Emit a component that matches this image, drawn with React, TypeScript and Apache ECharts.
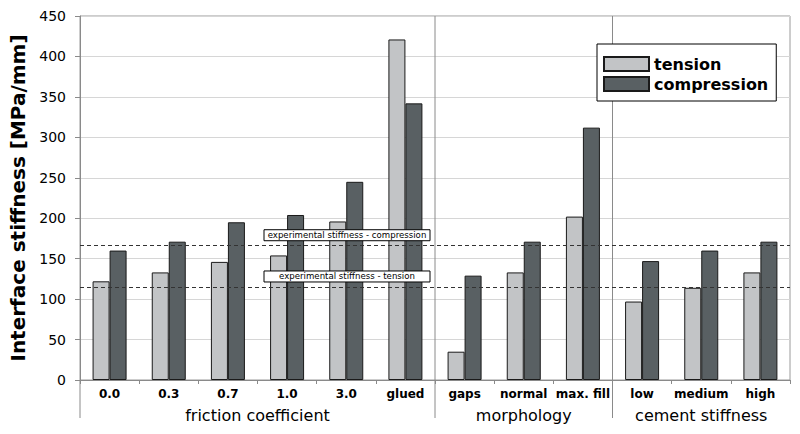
import React, { useEffect, useRef } from "react";
import * as echarts from "echarts";

const categories = ["0.0", "0.3", "0.7", "1.0", "3.0", "glued", "gaps", "normal", "max. fill", "low", "medium", "high"];
const tension = [122, 133, 146, 154, 196, 421, 35, 133, 202, 97, 114, 133];
const compression = [160, 171, 195, 204, 245, 342, 129, 171, 312, 147, 160, 171];
const groups = [
  { name: "friction coefficient", start: 0, end: 6 },
  { name: "morphology", start: 6, end: 9 },
  { name: "cement stiffness", start: 9, end: 12 },
];
const expCompression = 166;
const expTension = 115;
const yTicks = { min: 0, max: 450, interval: 50 };

const FONT = "DejaVu Sans";

export default function App() {
  const ref = useRef<HTMLDivElement>(null);
  useEffect(() => {
    if (!ref.current) return;
    document.body.style.margin = "0";
    const chart = echarts.init(ref.current, null, { renderer: "svg" });
    chart.setOption({
      animation: false,
      grid: { left: 80, right: 10, top: 16, bottom: 54, show: true, borderColor: "#9a9a9a", borderWidth: 1 },
      legend: {
        orient: "vertical",
        left: 597,
        top: 44,
        padding: [12, 8, 9, 6],
        itemGap: 4,
        itemWidth: 45,
        itemHeight: 14,
        backgroundColor: "#fff",
        borderColor: "#000",
        borderWidth: 1,
        textStyle: { fontFamily: FONT, fontWeight: "bold", fontSize: 16, color: "#000" },
        data: [
          { name: "tension", icon: "rect" },
          { name: "compression", icon: "rect" },
        ],
      },
      xAxis: {
        type: "category",
        data: categories,
        axisLine: { lineStyle: { color: "#8a8a8a" } },
        axisTick: { show: true, length: 4, interval: 0, lineStyle: { color: "#8a8a8a" } },
        axisLabel: { interval: 0, margin: 8, fontFamily: FONT, fontWeight: "bold", fontSize: 12, color: "#000" },
      },
      yAxis: {
        type: "value",
        min: yTicks.min,
        max: yTicks.max,
        interval: yTicks.interval,
        name: "Interface stiffness [MPa/mm]",
        nameLocation: "middle",
        nameGap: 48,
        nameTextStyle: { fontFamily: FONT, fontWeight: "bold", fontSize: 20, color: "#000" },
        axisLine: { show: true, lineStyle: { color: "#8a8a8a" } },
        axisTick: { show: true, length: 5, lineStyle: { color: "#8a8a8a" } },
        axisLabel: { margin: 14, fontFamily: FONT, fontSize: 14, color: "#000" },
        splitLine: { lineStyle: { color: "#d6d6d6" } },
      },
      series: [
        {
          name: "tension",
          type: "bar",
          data: tension,
          barWidth: 17,
          barGap: "0%",
          itemStyle: { color: "#c2c4c6", borderColor: "#1a1a1a", borderWidth: 1 },
        },
        {
          name: "compression",
          type: "bar",
          data: compression,
          barWidth: 17,
          barGap: "0%",
          itemStyle: { color: "#596063", borderColor: "#1a1a1a", borderWidth: 1 },
          markLine: {
            silent: true,
            symbol: "none",
            label: { show: false },
            lineStyle: { type: [4, 3], color: "#333", width: 1 },
            data: [{ yAxis: expCompression }, { yAxis: expTension }],
          },
        },
      ],
    });

    const cx = (i: number) => chart.convertToPixel({ xAxisIndex: 0 }, i) as number;
    const step = cx(1) - cx(0);
    const boundary = (b: number) => cx(0) - step / 2 + b * step;
    const py = (v: number) => chart.convertToPixel({ yAxisIndex: 0 }, v) as number;
    const yTop = py(yTicks.max);
    const yBot = py(0);

    const graphics: any[] = [];
    graphics.push({
      type: "line",
      shape: { x1: boundary(0), y1: yBot, x2: boundary(0), y2: yBot + 38 },
      style: { stroke: "#8a8a8a", lineWidth: 1 },
    });
    groups.forEach((g, idx) => {
      if (idx > 0) {
        const x = boundary(g.start);
        graphics.push({
          type: "line",
          shape: { x1: x, y1: yTop, x2: x, y2: yBot + 38 },
          style: { stroke: "#8a8a8a", lineWidth: 1 },
        });
      }
      graphics.push({
        type: "text",
        x: (boundary(g.start) + boundary(g.end)) / 2,
        y: yBot + 35,
        style: {
          text: g.name,
          fontFamily: FONT,
          fontSize: 16,
          fill: "#000",
          align: "center",
          verticalAlign: "middle",
        },
      });
    });
    const boxLeft = 264;
    const boxW = 166;
    const boxH = 11;
    [
      { v: expCompression, t: "experimental stiffness - compression" },
      { v: expTension, t: "experimental stiffness - tension" },
    ].forEach((b) => {
      const y = py(b.v);
      graphics.push({
        type: "rect",
        shape: { x: boxLeft, y: y - 5 - boxH, width: boxW, height: boxH },
        style: { fill: "#fff", stroke: "#000", lineWidth: 1 },
        z: 10,
      });
      graphics.push({
        type: "text",
        x: boxLeft + boxW / 2,
        y: y - 5 - boxH / 2,
        style: {
          text: b.t,
          fontFamily: FONT,
          fontSize: 8.6,
          fill: "#000",
          align: "center",
          verticalAlign: "middle",
        },
        z: 11,
      });
    });
    chart.setOption({ graphic: graphics });
    return () => chart.dispose();
  }, []);
  return <div ref={ref} style={{ width: 800, height: 434 }} />;
}
